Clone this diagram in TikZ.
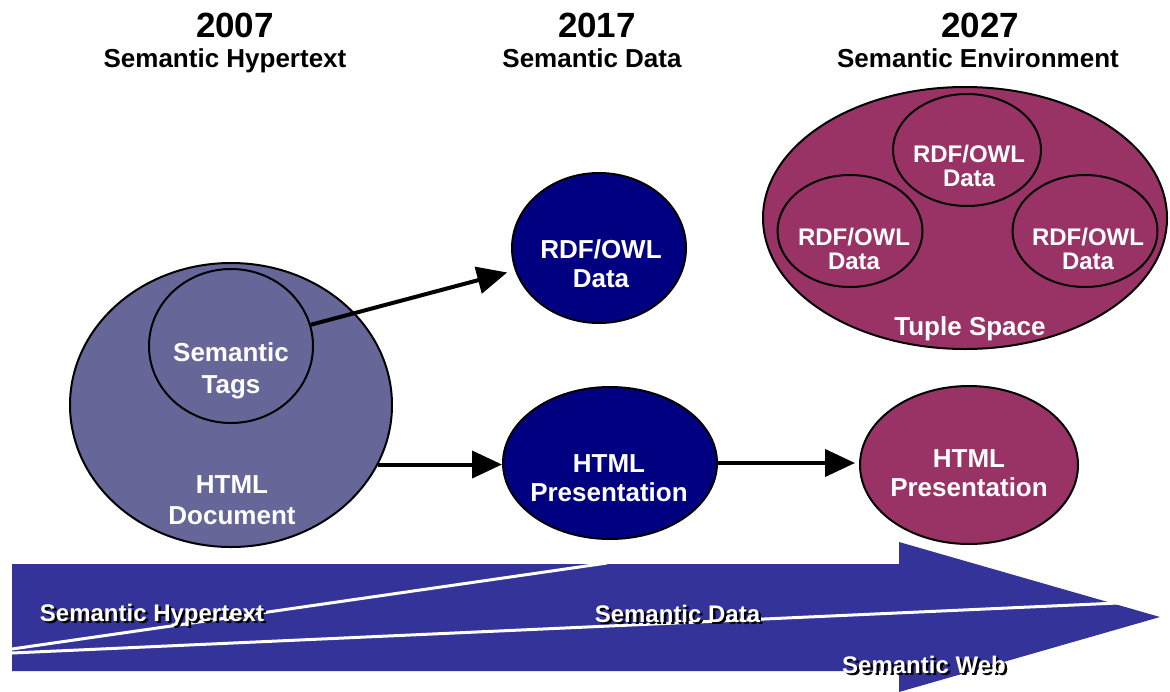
\documentclass[tikz,border=0pt]{standalone}
\usepackage{fontspec}
\setmainfont{Liberation Sans}
\usetikzlibrary{shapes.geometric,arrows.meta}

\definecolor{docfill}{HTML}{666699}
\definecolor{navyfill}{HTML}{000080}
\definecolor{plumfill}{HTML}{993366}
\definecolor{bandblue}{HTML}{333399}

\begin{document}
\begin{tikzpicture}[x=1pt,y=-1pt,
  blob/.style={ellipse,draw=black,line width=2pt,inner sep=0pt},
  lbl/.style={text=white,font=\bfseries\fontsize{26}{29}\selectfont,align=center,inner sep=0pt},
  biglbl/.style={text=white,font=\bfseries\fontsize{26}{31.5}\selectfont,align=center,inner sep=0pt},
  smalllbl/.style={text=white,font=\bfseries\fontsize{24}{23.5}\selectfont,align=center,inner sep=0pt},
  yearhead/.style={font=\bfseries\fontsize{35}{40}\selectfont,anchor=base,inner sep=0pt},
  eraname/.style={font=\bfseries\fontsize{26}{30}\selectfont,anchor=base,inner sep=0pt},
  flow/.style={line width=4pt,-{Triangle[length=30pt,width=27pt]}},
  bandtext/.style={text=white,font=\bfseries\fontsize{24}{28}\selectfont,anchor=base,inner sep=0pt},
  bandshadow/.style={bandtext,text=black},
  seam/.style={white,line width=3pt}
]
\useasboundingbox (0,0) rectangle (1170,691);

% column headings
\node[yearhead] (y2007) at (235,37) {2007};
\node[eraname]  (e2007) at (225,67) {Semantic Hypertext};
\node[yearhead] (y2017) at (597,37) {2017};
\node[eraname]  (e2017) at (592,67) {Semantic Data};
\node[yearhead] (y2027) at (980,37) {2027};
\node[eraname]  (e2027) at (978,67) {Semantic Environment};

% 2007: HTML document with embedded semantic tags
\node[blob,fill=docfill,minimum width=322pt,minimum height=284pt] (doc) at (231,405) {};
\node[blob,fill=docfill,minimum width=164pt,minimum height=154pt] (tags) at (231,346) {};
\node[biglbl] (tagsT) at (231,371) {Semantic\\Tags};
\node[biglbl] (docT) at (232,500) {HTML\\Document};

% 2017: separate data and presentation
\node[blob,fill=navyfill,minimum width=174pt,minimum height=150pt] (rdf) at (599,248) {};
\node[lbl] (rdfT) at (601,264) {RDF/OWL\\Data};
\node[blob,fill=navyfill,minimum width=214pt,minimum height=152pt] (htmlA) at (610,463) {};
\node[lbl] (htmlAT) at (609,478) {HTML\\Presentation};

% 2027: tuple space holding several data sets
\node[blob,fill=plumfill,minimum width=404pt,minimum height=262pt] (tuple) at (965,218) {};
\node[blob,fill=plumfill,minimum width=148pt,minimum height=112pt] (dTop) at (967,150) {};
\node[blob,fill=plumfill,minimum width=145pt,minimum height=112pt] (dLeft) at (850,231) {};
\node[blob,fill=plumfill,minimum width=145pt,minimum height=112pt] (dRight) at (1085,231) {};
\node[smalllbl] (dTopT) at (969,166) {RDF/OWL\\Data};
\node[smalllbl] (dLeftT) at (854,249) {RDF/OWL\\Data};
\node[smalllbl] (dRightT) at (1088,249) {RDF/OWL\\Data};
\node[eraname,text=white] (tupleT) at (970,335) {Tuple Space};
\node[blob,fill=plumfill,minimum width=218pt,minimum height=158pt] (htmlB) at (969,465) {};
\node[lbl] (htmlBT) at (969,473) {HTML\\Presentation};

% connectors
\draw[flow,shorten >=8pt] (tags) -- (rdf);
\draw[flow] (doc.-22.2) -- (doc.-22.2 -| htmlA.west);
\draw[flow,shorten >=4pt] (htmlA.east) -- (htmlA.east -| htmlB.west);

% timeline band
\coordinate (bandL1) at (12,649);
\coordinate (bandR1) at (607,563);
\coordinate (bandL2) at (12,653);
\coordinate (bandR2) at (1118,603);
\fill[bandblue] (12,564) -- (899,564) -- (899,542) -- (1160,617) -- (899,692)
  -- (899,671) -- (12,671) -- cycle;
\draw[seam] (bandL1) -- (bandR1);
\draw[seam] (bandL2) -- (bandR2);

\node[bandshadow] (hyperS) at (154.5,623.5) {Semantic Hypertext};
\node[bandtext]   (hyper)  at (152,621) {Semantic Hypertext};
\node[bandshadow] (dataS)  at (680,624.5) {Semantic Data};
\node[bandtext]   (data)   at (677.5,622) {Semantic Data};
\node[bandshadow] (webS)   at (926.5,675.5) {Semantic Web};
\node[bandtext]   (web)    at (924,673) {Semantic Web};
\end{tikzpicture}
\end{document}
